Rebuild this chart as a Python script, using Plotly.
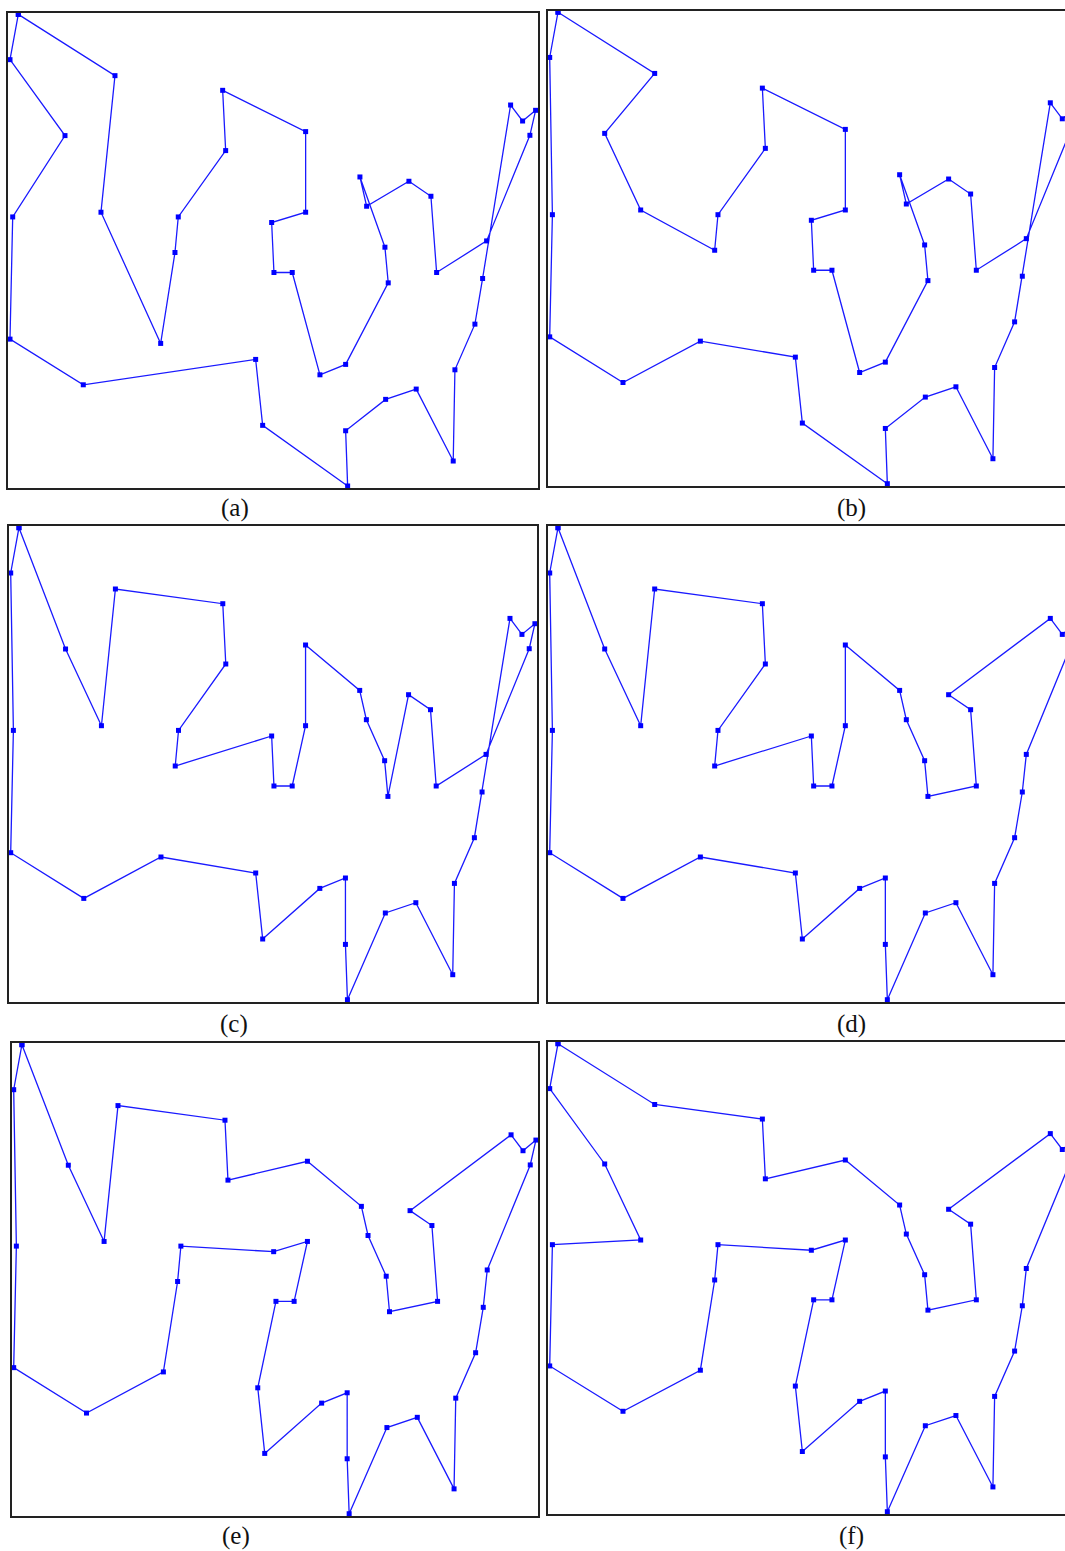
import plotly.graph_objects as go

# ---- city coordinates (panel (a) frame units) ----
city = ["A", "B", "C", "D", "E", "F", "G", "H", "I", "J", "K", "L", "M", "N",
        "O", "P", "Q", "R", "S", "T", "U", "V", "W", "X", "Y", "Z", "AA", "AB",
        "AC", "AD", "AE", "AF", "AG", "AH", "AI", "AJ", "AK", "AL", "AM", "AN",
        "AO", "AP"]
city_x = [10.0, 1.7, 56.7, 4.4, 106.7, 92.7, 214.4, 217.4, 170.0, 263.4, 297.4,
          297.4, 351.7, 358.4, 400.7, 422.7, 502.4, 514.4, 527.4, 521.7, 478.4,
          376.7, 1.7, 75.0, 247.4, 254.4, 152.4, 166.7, 265.7, 284.0, 311.7,
          337.4, 380.0, 428.4, 474.4, 466.7, 446.7, 445.0, 408.0, 377.4, 337.4,
          339.4]
city_y = [474.3, 429.0, 353.0, 271.6, 413.0, 276.3, 398.3, 338.0, 271.6, 266.0,
          357.0, 276.3, 311.6, 282.3, 307.3, 292.3, 383.6, 367.6, 378.3, 353.3,
          247.6, 241.3, 149.3, 103.6, 129.0, 63.0, 145.0, 236.0, 216.0, 216.0,
          113.6, 124.0, 205.6, 216.0, 210.0, 164.3, 118.6, 27.3, 99.3, 89.0,
          57.6, 2.3]

# ---- tours (visiting order) ----
tour_a = ["A", "B", "C", "D", "W", "X", "Y", "Z", "AP", "AO", "AN", "AM", "AL",
          "AK", "AJ", "AI", "Q", "R", "S", "T", "U", "AH", "P", "O", "N", "M",
          "V", "AG", "AF", "AE", "AD", "AC", "J", "L", "K", "G", "H", "I", "AB",
          "AA", "F", "E"]
tour_b = ["A", "E", "C", "F", "AB", "I", "H", "G", "K", "L", "J", "AC", "AD",
          "AE", "AF", "AG", "V", "M", "N", "O", "P", "AH", "U", "T", "S", "R",
          "Q", "AI", "AJ", "AK", "AL", "AM", "AN", "AO", "AP", "Z", "Y", "AA",
          "X", "W", "D", "B"]
tour_c = ["A", "C", "F", "E", "G", "H", "I", "AB", "J", "AC", "AD", "L", "K",
          "M", "N", "V", "AG", "O", "P", "AH", "U", "T", "S", "R", "Q", "AI",
          "AJ", "AK", "AL", "AM", "AN", "AP", "AO", "AF", "AE", "Z", "Y", "AA",
          "X", "W", "D", "B"]
tour_d = ["A", "C", "F", "E", "G", "H", "I", "AB", "J", "AC", "AD", "L", "K",
          "M", "N", "V", "AG", "AH", "P", "O", "Q", "R", "S", "T", "U", "AI",
          "AJ", "AK", "AL", "AM", "AN", "AP", "AO", "AF", "AE", "Z", "Y", "AA",
          "X", "W", "D", "B"]
tour_e = ["A", "C", "F", "E", "G", "H", "K", "M", "N", "V", "AG", "AH", "P",
          "O", "Q", "R", "S", "T", "U", "AI", "AJ", "AK", "AL", "AM", "AN", "AP",
          "AO", "AF", "AE", "Z", "Y", "AC", "AD", "L", "J", "I", "AB", "AA", "X",
          "W", "D", "B"]
tour_f = ["A", "E", "G", "H", "K", "M", "N", "V", "AG", "AH", "P", "O", "Q",
          "R", "S", "T", "U", "AI", "AJ", "AK", "AL", "AM", "AN", "AP", "AO",
          "AF", "AE", "Z", "Y", "AC", "AD", "L", "J", "I", "AB", "AA", "X", "W",
          "D", "F", "C", "B"]
tours = [tour_a, tour_b, tour_c, tour_d, tour_e, tour_f]
panel_labels = ["(a)", "(b)", "(c)", "(d)", "(e)", "(f)"]

# ---- layout geometry ----
W, H = 1065, 1551
X_MAX, Y_MAX = 529.5, 476.0
PANEL_W = 529.4
boxes = [  # left, right, top, bottom (px)
    (8.3, 537.7, 12.7, 488.3),
    (548.0, 1065.0, 10.5, 486.0),
    (9.0, 537.0, 526.0, 1002.0),
    (548.0, 1065.0, 526.0, 1002.0),
    (12.0, 538.0, 1043.0, 1516.0),
    (548.0, 1065.0, 1042.0, 1514.0),
]
label_pos = [(235, 508), (851, 508), (234, 1024), (851, 1024), (236, 1536), (851, 1536)]
cut_right = [False, True, False, True, False, True]

idx = {c: i for i, c in enumerate(city)}
fig = go.Figure()
layout = {}
for k, (tour, box) in enumerate(zip(tours, boxes)):
    n = "" if k == 0 else str(k + 1)
    order = tour + [tour[0]]
    xs = [city_x[idx[c]] for c in order]
    ys = [city_y[idx[c]] for c in order]
    fig.add_trace(go.Scatter(
        x=xs, y=ys, mode="lines+markers",
        line=dict(color="#1a1aff", width=1.3),
        marker=dict(symbol="square", size=5, color="#0000ff"),
        xaxis="x" + n, yaxis="y" + n, showlegend=False, cliponaxis=False,
        hoverinfo="skip"))
    l, r, t, b = box
    if cut_right[k]:
        xr = [0, X_MAX * (r - l) / PANEL_W]
    else:
        xr = [0, X_MAX]
    layout["xaxis" + n] = dict(
        domain=[l / W, r / W], range=xr, showgrid=False, zeroline=False,
        showticklabels=False, ticks="", showline=True, mirror=True,
        linecolor="#222222", linewidth=1.5, anchor="y" + n, fixedrange=True)
    layout["yaxis" + n] = dict(
        domain=[1 - b / H, 1 - t / H], range=[0, Y_MAX], showgrid=False,
        zeroline=False, showticklabels=False, ticks="", showline=True,
        mirror=not cut_right[k], linecolor="#222222", linewidth=1.5,
        anchor="x" + n, fixedrange=True)

annotations = []
for (lx, ly), txt in zip(label_pos, panel_labels):
    annotations.append(dict(
        text=txt, x=lx / W, y=1 - ly / H, xref="paper", yref="paper",
        showarrow=False, xanchor="center", yanchor="middle",
        font=dict(family="Liberation Serif, Times New Roman, serif", size=25,
                  color="#111111")))

fig.update_layout(
    width=W, height=H, margin=dict(l=0, r=0, t=0, b=0),
    paper_bgcolor="white", plot_bgcolor="white",
    annotations=annotations, **layout)

fig.write_html(
    "out.html",
    config={"displayModeBar": False},
    post_script="document.body.style.margin='0px';"
                "document.body.style.overflow='hidden';")
